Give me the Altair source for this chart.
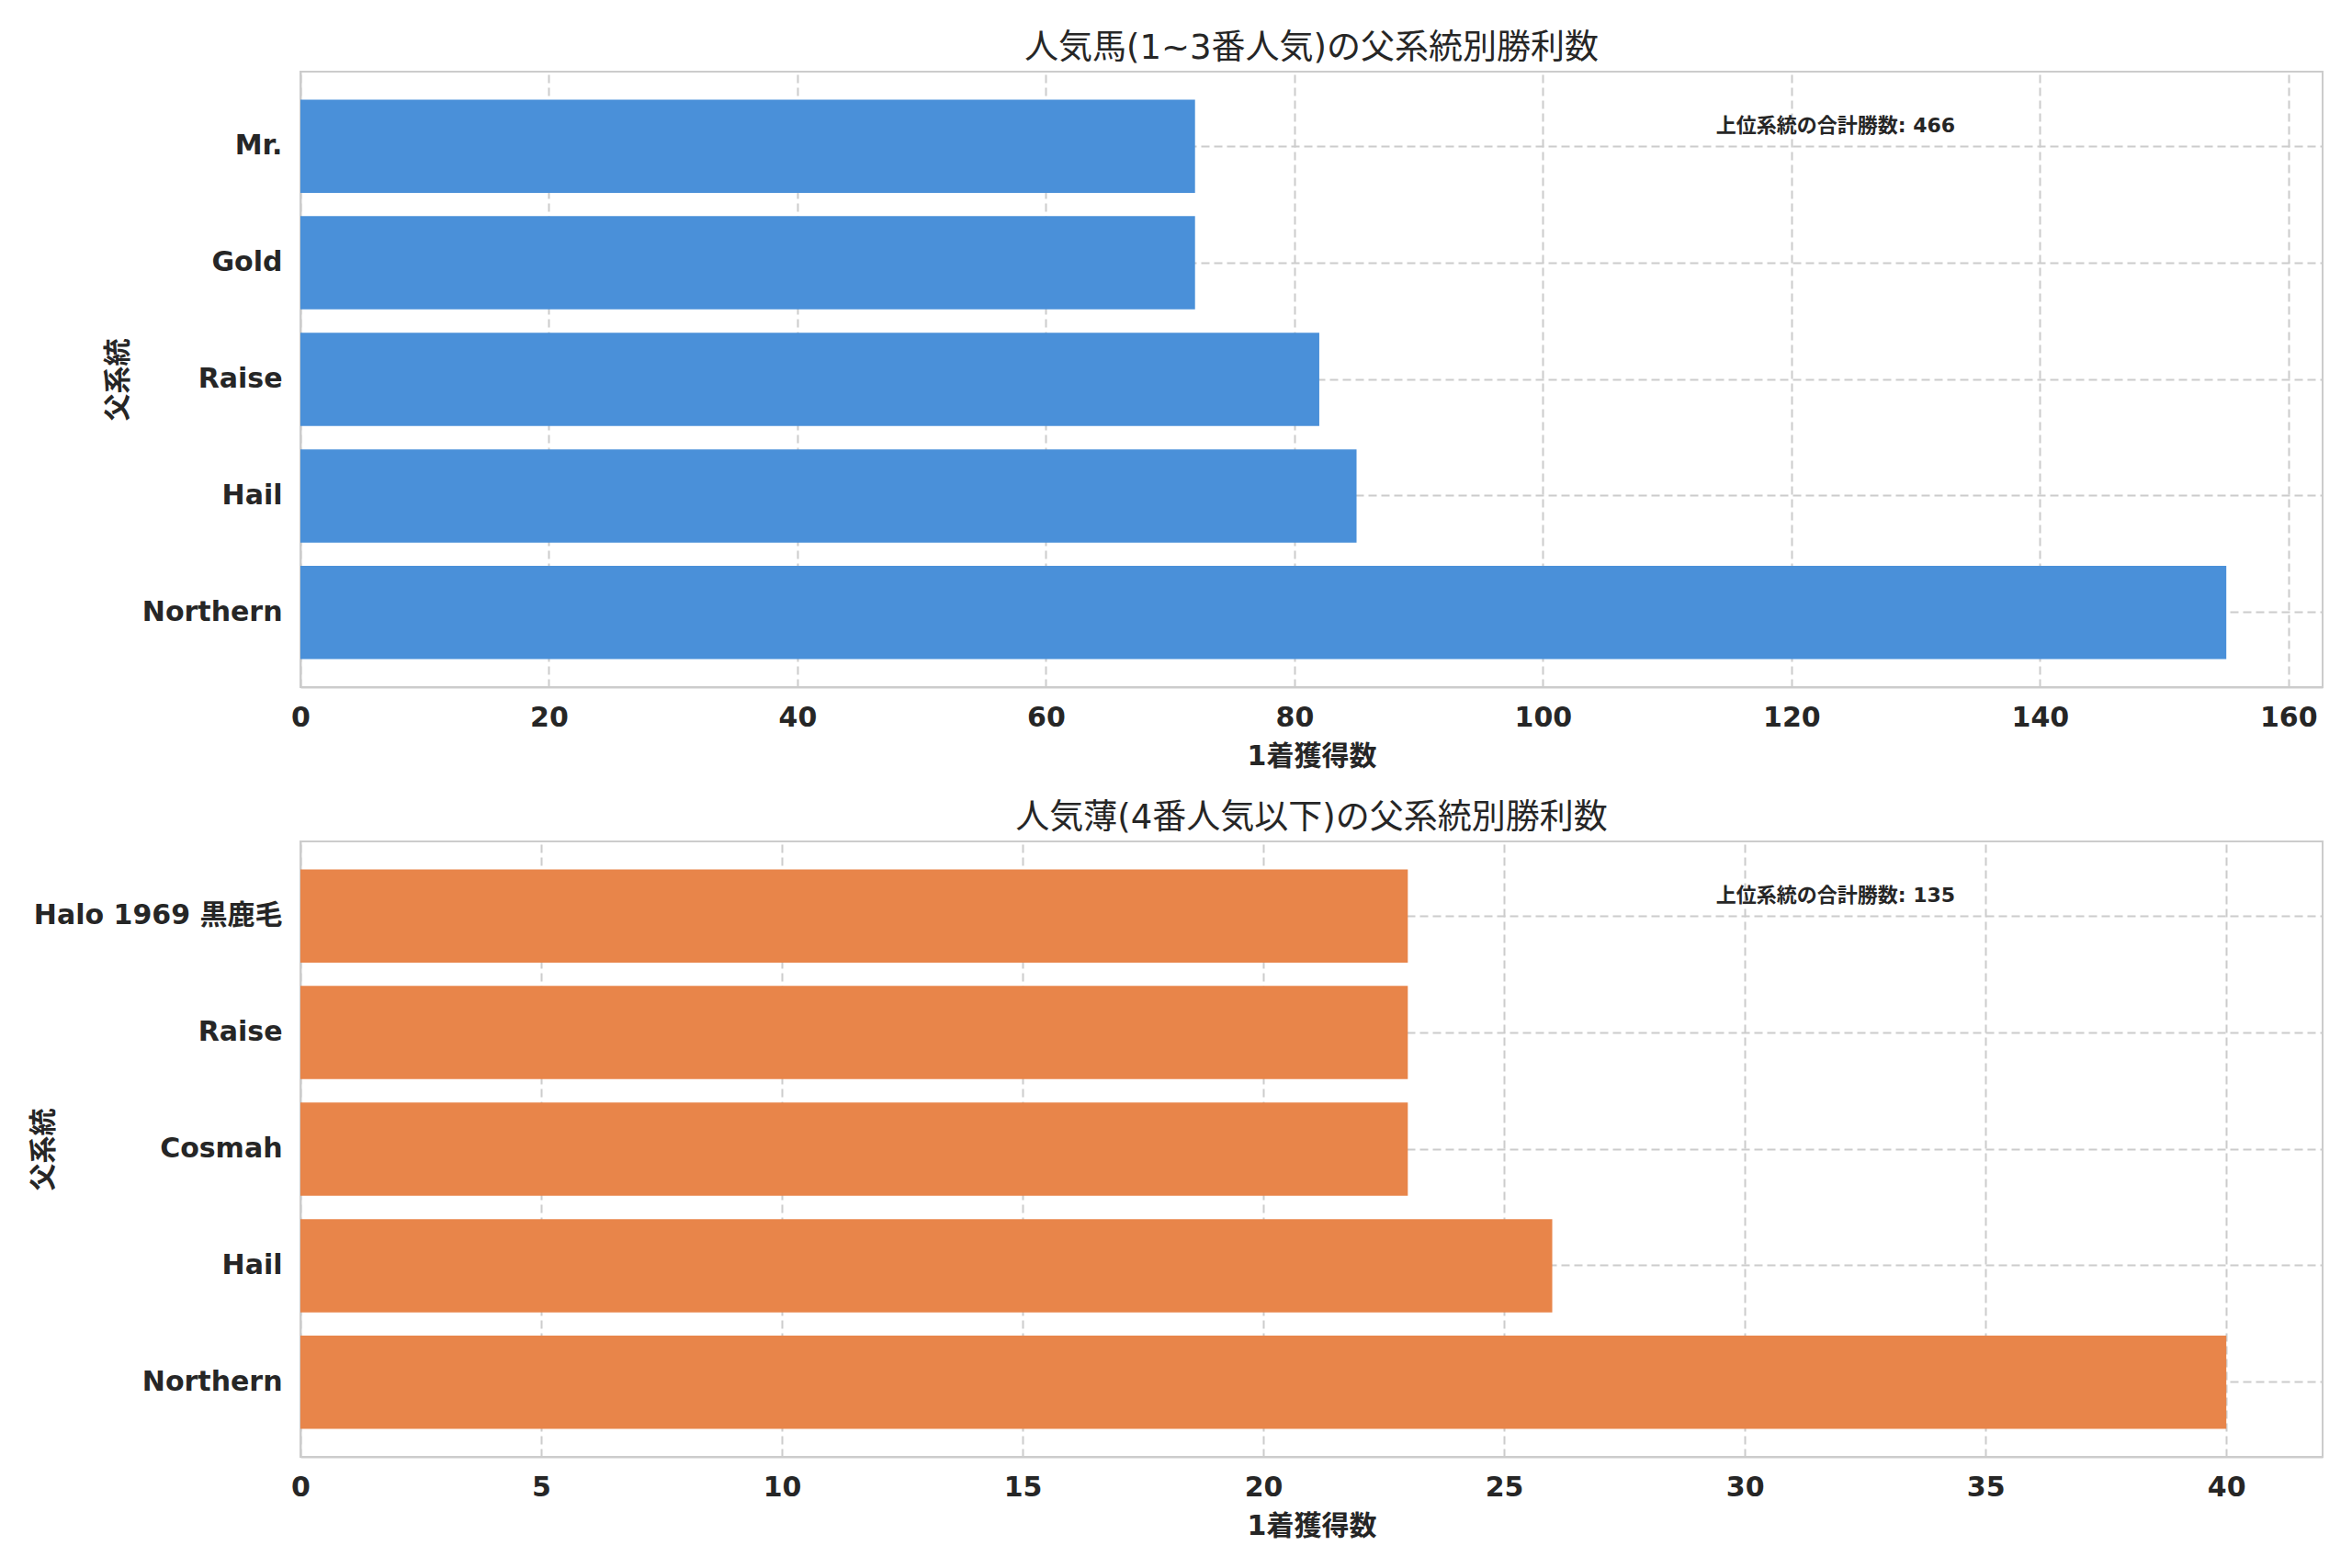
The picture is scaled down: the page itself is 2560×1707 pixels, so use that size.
import altair as alt
import pandas as pd

# Data
sires_top = ["Mr.", "Gold", "Raise", "Hail", "Northern"]
wins_top = [72, 72, 82, 85, 155]
sires_bottom = ["Halo 1969 黒鹿毛", "Raise", "Cosmah", "Hail", "Northern"]
wins_bottom = [23, 23, 23, 26, 40]
ticks_top = [0, 20, 40, 60, 80, 100, 120, 140, 160]
ticks_bottom = [0, 5, 10, 15, 20, 25, 30, 35, 40]

title_top = "人気馬(1~3番人気)の父系統別勝利数"
title_bottom = "人気薄(4番人気以下)の父系統別勝利数"
y_title = "父系統"
x_title = "1着獲得数"
note_label = "上位系統の合計勝数"

W = 2201
H = 670
FONT = "DejaVu Sans, Noto Sans CJK JP"


def panel(sires, wins, ticks, xmax, color, title, ytitle_x):
    df = pd.DataFrame({"sire": sires, "wins": wins})
    note = pd.DataFrame({"t": [f"{note_label}: {sum(wins)}"]})
    bars = alt.Chart(df).mark_bar(color=color).encode(
        y=alt.Y(
            "sire:N",
            sort=sires,
            scale=alt.Scale(paddingInner=0.2, paddingOuter=0.24),
            axis=alt.Axis(title=y_title, bandPosition=0.5, grid=True,
                          labelPadding=20, titleX=ytitle_x, titleY=H / 2,
                          labelLimit=0),
        ),
        x=alt.X(
            "wins:Q",
            scale=alt.Scale(domain=[0, xmax], nice=False, zero=True),
            axis=alt.Axis(title=x_title, values=ticks, grid=True,
                          labelPadding=18, titlePadding=12, labelFlush=False),
        ),
    )
    txt = alt.Chart(note).mark_text(
        align="left", baseline="middle", fontSize=22, fontWeight="bold",
        color="#262626", font=FONT,
    ).encode(x=alt.value(W * 0.7), y=alt.value(59), text="t:N")
    return alt.layer(bars, txt).properties(
        width=W, height=H,
        title=alt.TitleParams(title, fontSize=37, fontWeight="normal",
                              color="#262626", font=FONT, offset=6),
    )


top = panel(sires_top, wins_top, ticks_top, 162.75, "#4a90d9", title_top, -184)
bottom = panel(sires_bottom, wins_bottom, ticks_bottom, 42.0, "#e8854a", title_bottom, -265)

chart = alt.vconcat(top, bottom, spacing=32).properties(
    padding={"top": 25, "left": 23, "right": 10, "bottom": 10}
).configure(
    background="white"
).configure_view(
    stroke="#cccccc", strokeWidth=2
).configure_axis(
    labelFont=FONT, titleFont=FONT,
    labelFontSize=30, titleFontSize=30,
    labelFontWeight="bold", titleFontWeight="bold",
    labelColor="#262626", titleColor="#262626",
    domainColor="#cccccc", domainWidth=2,
    tickSize=0, ticks=False,
    gridColor="#cccccc", gridDash=[9, 5], gridWidth=2,
)

chart.save("out.html", embed_options={"renderer": "svg", "actions": False})
